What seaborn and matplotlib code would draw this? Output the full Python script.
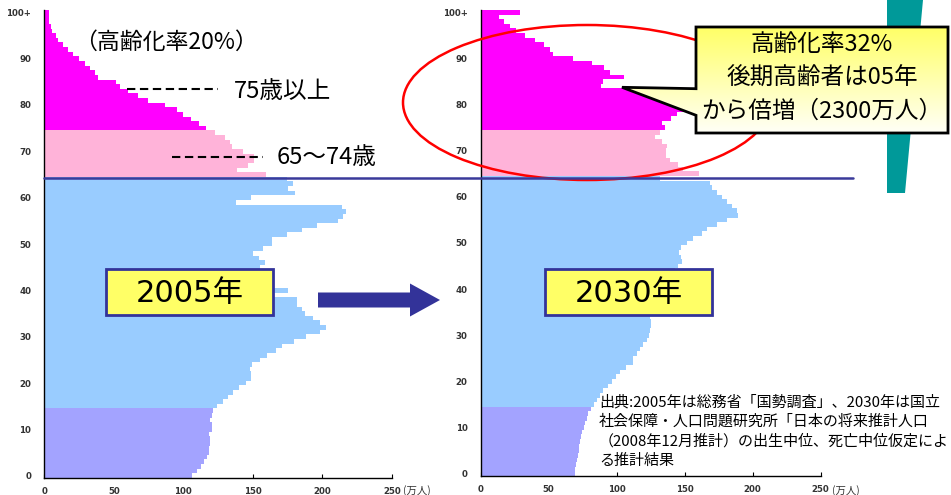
import numpy as np
import pandas as pd
import matplotlib
matplotlib.use("Agg")
import matplotlib.pyplot as plt
import seaborn as sns
from matplotlib.patches import Rectangle, Polygon, Ellipse

# ---------------- data (万人, by single year of age) ----------------
ages = list(range(0, 101))

pop_2005 = [106.3, 109.6, 112.5, 114.9, 116.8, 118.2, 118.7, 119.2, 119.2, 118.7,
            121.0, 121.0, 119.2, 121.0, 121.1, 124.3, 128.3, 132.0, 136.0, 140.3,
            145.1, 148.8, 148.5, 148.0, 149.3, 155.2, 160.0, 166.7, 170.9, 179.6,
            188.2, 198.4, 202.7, 198.3, 193.5, 187.6, 185.2, 181.6, 181.6, 145.0,
            175.6, 162.0, 160.0, 157.0, 160.0, 155.2, 158.8, 154.7, 150.4, 157.6,
            163.6, 163.6, 174.4, 185.4, 196.0, 211.0, 215.0, 217.0, 214.0, 137.9,
            148.7, 180.4, 175.5, 179.0, 174.8, 159.2, 138.4, 146.8, 150.8, 150.8,
            143.2, 134.8, 133.6, 130.0, 122.8, 116.1, 111.5, 105.3, 99.5, 95.2,
            86.8, 74.8, 67.1, 60.0, 54.4, 51.3, 38.4, 36.5, 32.9, 29.3,
            24.9, 20.9, 17.3, 13.2, 10.1, 8.2, 5.3, 4.6, 3.6, 3.4, 3.4]

pop_2030 = [69.3, 69.3, 69.8, 70.6, 71.3, 72.0, 72.5, 73.0, 73.5, 74.3,
            76.0, 76.8, 78.0, 79.2, 80.9, 83.3, 85.3, 87.7, 90.2, 93.8,
            96.3, 99.5, 102.4, 106.8, 111.7, 111.7, 114.7, 117.1, 119.6, 122.5,
            124.0, 124.5, 125.2, 125.2, 124.5, 126.0, 127.0, 130.0, 131.0, 133.0,
            136.0, 137.0, 140.0, 141.0, 143.0, 145.3, 147.8, 147.0, 146.0, 147.0,
            151.4, 156.3, 162.5, 166.1, 173.5, 180.9, 189.5, 188.2, 184.6, 181.4,
            177.2, 173.5, 169.8, 168.6, 132.0, 160.8, 149.0, 145.0, 139.0, 136.0,
            136.0, 137.0, 133.0, 128.0, 132.0, 135.5, 133.0, 140.0, 144.0, 155.0,
            165.0, 168.0, 163.0, 120.0, 88.2, 90.2, 105.0, 95.1, 90.7, 81.6,
            67.6, 53.4, 51.0, 46.6, 40.0, 32.6, 26.0, 21.6, 17.4, 13.7, 28.9]

age_ticks = [0, 10, 20, 30, 40, 50, 60, 70, 80, 90, 100]
age_tick_labels = ["0", "10", "20", "30", "40", "50", "60", "70", "80", "90", "100+"]
x_ticks = [0, 50, 100, 150, 200, 250]
x_tick_labels = ["0", "50", "100", "150", "200", "250"]

group_names = ["0-14", "15-64", "65-74", "75+"]
group_colors = ["#A3A3FF", "#99CCFF", "#FFB3D9", "#FF00FF"]


def group_of(a):
    if a < 15:
        return group_names[0]
    if a < 65:
        return group_names[1]
    if a < 75:
        return group_names[2]
    return group_names[3]


sns.set_theme(style="white")
plt.rcParams["font.family"] = ["Noto Sans CJK JP", "DejaVu Sans"]

W, H = 951, 495
fig = plt.figure(figsize=(W / 100, H / 100), dpi=100)
fig.patch.set_facecolor("white")

ax1 = fig.add_axes([44.3 / W, (H - 478) / H, 347.5 / W, 468 / H])
ax2 = fig.add_axes([480.7 / W, (H - 476) / H, 340 / W, 466 / H])

palette = dict(zip(group_names, group_colors))
for ax, pop in ((ax1, pop_2005), (ax2, pop_2030)):
    df = pd.DataFrame({"age": ages, "pop": pop,
                       "group": [group_of(a) for a in ages]})
    sns.barplot(data=df, x="pop", y="age", hue="group", hue_order=group_names,
                palette=palette, orient="h", native_scale=True, dodge=False,
                width=1.0, saturation=1, linewidth=0, errorbar=None,
                legend=False, ax=ax)
    ax.set_xlim(0, 250)
    ax.set_ylim(-0.5, 100.5)
    ax.set_xlabel("")
    ax.set_ylabel("")
    ax.set_facecolor("none")
    for s in ("top", "right"):
        ax.spines[s].set_visible(False)
    for s in ("left", "bottom"):
        ax.spines[s].set_color("black")
        ax.spines[s].set_linewidth(1.0)
    ax.set_yticks(age_ticks)
    ax.set_yticklabels(age_tick_labels)
    ax.set_yticks(ages, minor=True)
    ax.set_xticks(x_ticks)
    ax.set_xticklabels(x_tick_labels)
    ax.tick_params(axis="y", which="both", left=True, direction="in",
                   length=3, width=0.8, color="black")
    ax.tick_params(axis="y", which="major", pad=9.5, labelsize=6.2,
                   labelcolor="#333333")
    ax.tick_params(axis="x", which="major", bottom=True, direction="in",
                   length=3, width=0.8, color="black", pad=6.5,
                   labelsize=6.2, labelcolor="#333333")
    for lab in ax.get_yticklabels() + ax.get_xticklabels():
        lab.set_fontfamily("DejaVu Sans")
        lab.set_fontweight("bold")

# ---------------- overlay (pixel coordinates) ----------------
ov = fig.add_axes([0, 0, 1, 1])
ov.set_axis_off()
ov.patch.set_alpha(0)

# teal decorative shape
ov.add_patch(Polygon([(887, 0), (923, 0), (905, 193), (887, 193)],
                     closed=True, fc="#009999", ec="none", zorder=1))

# red ellipse
ov.add_patch(Ellipse((587, 102.5), 368, 155, fill=False, ec="#FF0000",
                     lw=1.8, zorder=3))

# horizontal navy line at age 65
ov.plot([44, 853], [178, 178], color="#3A3A9A", lw=1.8, zorder=4)

# dashed leader lines
ov.plot([126.7, 218.3], [89.3, 89.3], color="black", lw=1.5,
        dashes=(4, 2.2), zorder=4)
ov.plot([171.7, 263.3], [156.7, 156.7], color="black", lw=1.5,
        dashes=(4, 2.2), zorder=4)

ov.text(74, 42.5, "（高齢化率20%）", fontsize=16.5, ha="left", va="center",
        color="black", zorder=5)
ov.text(234, 92, "75歳以上", fontsize=17, ha="left", va="center",
        color="black", zorder=5)
ov.text(277, 157, "65～74歳", fontsize=17, ha="left", va="center",
        color="black", zorder=5)

# year boxes
for x0, label in ((105.7, "2005年"), (545.0, "2030年")):
    ov.add_patch(Rectangle((x0, 269.3), 167.3, 45.7, fc="#FFFF66",
                           ec="#333399", lw=2, zorder=5))
    ov.text(x0 + 167.3 / 2, 293, label, fontsize=22, ha="center",
            va="center", color="black", zorder=6,
            family=["DejaVu Sans", "Noto Sans CJK JP"])

# big arrow between panels
ov.add_patch(Polygon([(318, 292.5), (410, 292.5), (410, 283.5), (440, 300),
                      (410, 316.5), (410, 307.5), (318, 307.5)],
                     closed=True, fc="#333399", ec="none", zorder=5))

# callout box with gradient
call_verts = [(696, 27), (948, 27), (948, 133), (696, 133), (696, 115.3),
              (622, 87.3), (696, 88.7)]
call_patch = Polygon(call_verts, closed=True, fc="none", ec="black", lw=2,
                     zorder=8)
grad = np.linspace(0, 1, 256)[:, None]
top = np.array([1.0, 1.0, 0.40])
bot = np.array([1.0, 1.0, 0.97])
img = top[None, None, :] * (1 - grad[:, :, None]) + bot[None, None, :] * grad[:, :, None]
img = np.repeat(img, 4, axis=1)
im = ov.imshow(img, extent=(620, 948, 133, 27), origin="upper",
               aspect="auto", zorder=7, interpolation="bilinear")
clip_patch = Polygon(call_verts, closed=True, fc="none", ec="none",
                     transform=ov.transData)
ov.add_patch(clip_patch)
im.set_clip_path(clip_patch)
ov.add_patch(call_patch)

for y, line in ((44.5, "高齢化率32%"), (78.5, "後期高齢者は05年"),
                (111, "から倍増（2300万人）")):
    ov.text(822, y, line, fontsize=17, ha="center", va="center",
            color="black", zorder=9)

# source note
src_lines = ["出典:2005年は総務省「国勢調査」、2030年は国立",
             "社会保障・人口問題研究所「日本の将来推計人口",
             "（2008年12月推計）の出生中位、死亡中位仮定によ",
             "る推計結果"]
for y, line in zip((402, 421.5, 441, 461), src_lines):
    ov.text(599, y, line, fontsize=10.8, ha="left", va="center",
            color="black", zorder=6)

# units after the 250 tick labels
for x in (403, 832):
    ov.text(x, 490.5, "(万人)", fontsize=7.5, ha="left", va="center",
            color="#333333", zorder=6)

ov.set_xlim(0, W)
ov.set_ylim(H, 0)

fig.savefig("out.png", dpi=100, facecolor="white")
